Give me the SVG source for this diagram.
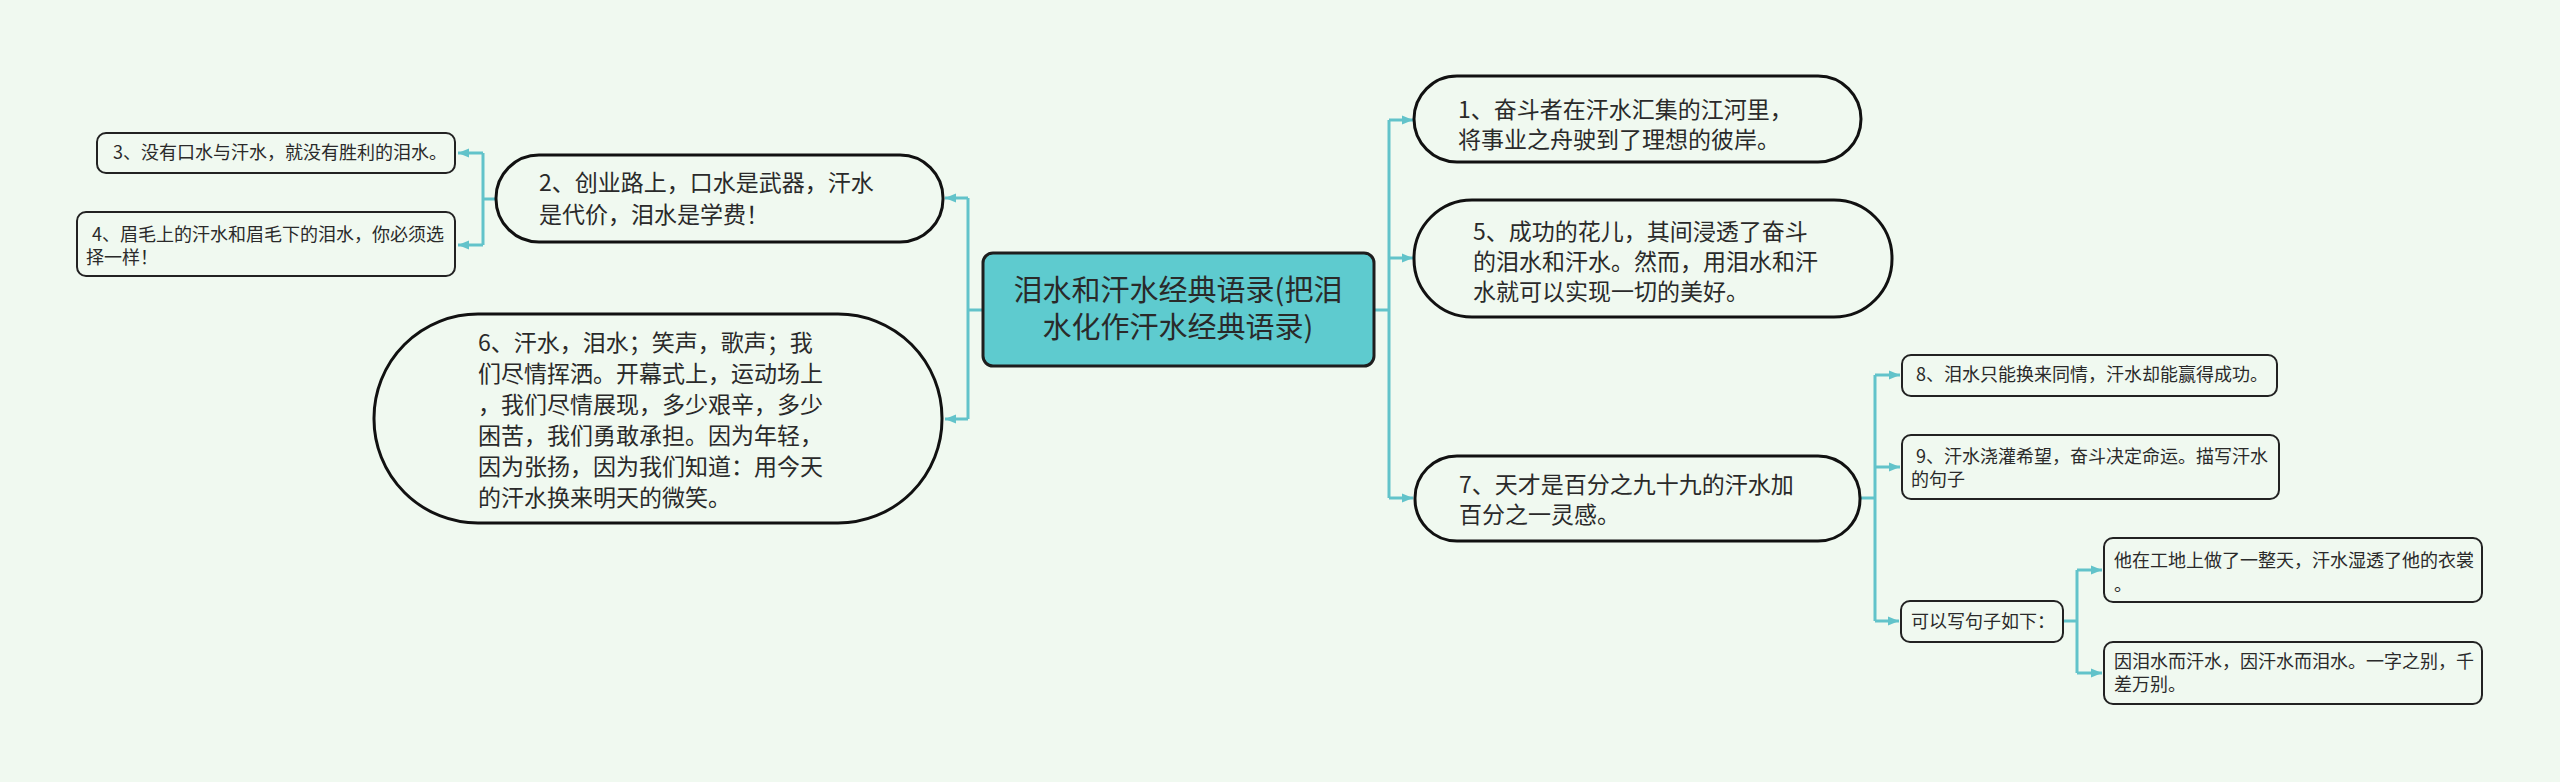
<svg xmlns="http://www.w3.org/2000/svg" width="2560" height="782" viewBox="0 0 2560 782">
<defs>
<marker id="arr" viewBox="0 0 10 10" refX="10" refY="5" markerWidth="11" markerHeight="11" markerUnits="userSpaceOnUse" orient="auto">
<path d="M0,1 L10,5 L0,9 z" fill="#62c3ca"/>
</marker>
<style>
.bg{fill:#f0f9f0}
.root{fill:#5ecbcf;stroke:#1e1e1e;stroke-width:3}
.big{fill:#f0f9f0;stroke:#111;stroke-width:3}
.sm{fill:#f0f9f0;stroke:#222;stroke-width:2}
text{font-family:"Noto Sans CJK SC","Noto Sans",sans-serif;fill:#2a2a2a}
.t30{font-size:29px}
.t23{font-size:23px}
.t18{font-size:18px}
.c{fill:none;stroke:#62c3ca;stroke-width:3}
</style>
</defs>
<rect class="bg" x="0" y="0" width="2560" height="782"/>
<g id="connectors">
<path class="c" d="M1374,310 H1389 M1389,120 V498"/>
<path class="c" d="M1389,120 H1413" marker-end="url(#arr)"/>
<path class="c" d="M1389,258 H1413" marker-end="url(#arr)"/>
<path class="c" d="M1389,498 H1413" marker-end="url(#arr)"/>
<path class="c" d="M983,310 H968 M968,198 V419"/>
<path class="c" d="M968,198 H945" marker-end="url(#arr)"/>
<path class="c" d="M968,419 H945" marker-end="url(#arr)"/>
<path class="c" d="M496,199 H483 M483,153 V245"/>
<path class="c" d="M483,153 H458" marker-end="url(#arr)"/>
<path class="c" d="M483,245 H458" marker-end="url(#arr)"/>
<path class="c" d="M1860,498 H1875 M1875,375 V621"/>
<path class="c" d="M1875,375 H1900" marker-end="url(#arr)"/>
<path class="c" d="M1875,467 H1900" marker-end="url(#arr)"/>
<path class="c" d="M1875,621 H1899" marker-end="url(#arr)"/>
<path class="c" d="M2063,621 H2077 M2077,570 V673"/>
<path class="c" d="M2077,570 H2102" marker-end="url(#arr)"/>
<path class="c" d="M2077,673 H2102" marker-end="url(#arr)"/>
</g>
<g id="root">
<rect class="root" x="983" y="253" width="391" height="113" rx="10"/>
<text class="t30" x="1178" y="301" text-anchor="middle">泪水和汗水经典语录(把泪</text>
<text class="t30" x="1178" y="338" text-anchor="middle">水化作汗水经典语录)</text>
</g>
<g id="n1">
<rect class="big" x="1414" y="76" width="447" height="86" rx="43"/>
<text class="t23" x="1458" y="118">1、奋斗者在汗水汇集的江河里，</text>
<text class="t23" x="1458" y="148">将事业之舟驶到了理想的彼岸。</text>
</g>
<g id="n5">
<rect class="big" x="1414" y="200" width="478" height="117" rx="58"/>
<text class="t23" x="1473" y="240">5、成功的花儿，其间浸透了奋斗</text>
<text class="t23" x="1473" y="270">的泪水和汗水。然而，用泪水和汗</text>
<text class="t23" x="1473" y="300">水就可以实现一切的美好。</text>
</g>
<g id="n7">
<rect class="big" x="1415" y="456" width="445" height="85" rx="42"/>
<text class="t23" x="1459" y="493">7、天才是百分之九十九的汗水加</text>
<text class="t23" x="1459" y="523">百分之一灵感。</text>
</g>
<g id="n2">
<rect class="big" x="496" y="155" width="447" height="87" rx="43"/>
<text class="t23" x="539" y="191">2、创业路上，口水是武器，汗水</text>
<text class="t23" x="539" y="223">是代价，泪水是学费！</text>
</g>
<g id="n6">
<rect class="big" x="374" y="314" width="568" height="209" rx="104"/>
<text class="t23" x="478" y="351">6、汗水，泪水；笑声，歌声；我</text>
<text class="t23" x="478" y="382">们尽情挥洒。开幕式上，运动场上</text>
<text class="t23" x="478" y="413">，我们尽情展现，多少艰辛，多少</text>
<text class="t23" x="478" y="444">困苦，我们勇敢承担。因为年轻，</text>
<text class="t23" x="478" y="475">因为张扬，因为我们知道：用今天</text>
<text class="t23" x="478" y="506">的汗水换来明天的微笑。</text>
</g>
<g id="n3">
<rect class="sm" x="97" y="133" width="358" height="40" rx="9"/>
<text class="t18" x="113" y="159">3、没有口水与汗水，就没有胜利的泪水。</text>
</g>
<g id="n4">
<rect class="sm" x="77" y="212" width="378" height="64" rx="9"/>
<text class="t18" x="92" y="241">4、眉毛上的汗水和眉毛下的泪水，你必须选</text>
<text class="t18" x="86" y="264">择一样！</text>
</g>
<g id="n8">
<rect class="sm" x="1902" y="355" width="375" height="41" rx="9"/>
<text class="t18" x="1916" y="381">8、泪水只能换来同情，汗水却能赢得成功。</text>
</g>
<g id="n9">
<rect class="sm" x="1902" y="435" width="377" height="64" rx="9"/>
<text class="t18" x="1916" y="463">9、汗水浇灌希望，奋斗决定命运。描写汗水</text>
<text class="t18" x="1911" y="486">的句子</text>
</g>
<g id="n10">
<rect class="sm" x="1901" y="601" width="162" height="41" rx="9"/>
<text class="t18" x="1911" y="628">可以写句子如下：</text>
</g>
<g id="n11">
<rect class="sm" x="2104" y="538" width="378" height="64" rx="9"/>
<text class="t18" x="2114" y="567">他在工地上做了一整天，汗水湿透了他的衣裳</text>
<text class="t18" x="2114" y="591">。</text>
</g>
<g id="n12">
<rect class="sm" x="2104" y="642" width="378" height="62" rx="9"/>
<text class="t18" x="2114" y="668">因泪水而汗水，因汗水而泪水。一字之别，千</text>
<text class="t18" x="2114" y="691">差万别。</text>
</g>
</svg>
